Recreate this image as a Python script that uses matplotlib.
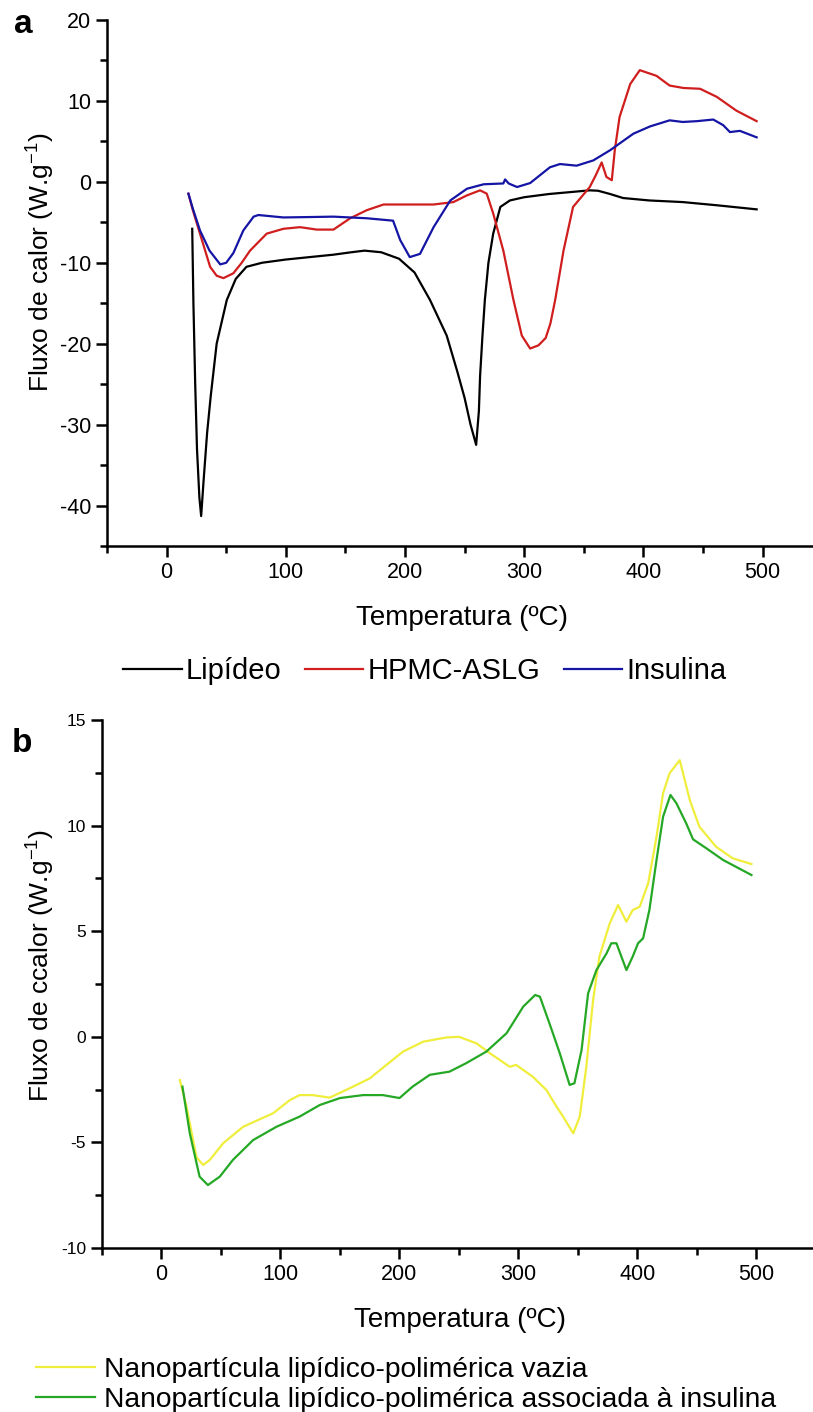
import matplotlib.pyplot as plt
from matplotlib.ticker import MultipleLocator

plt.rcParams['font.family'] = ['Liberation Sans', 'DejaVu Sans']
plt.rcParams['axes.unicode_minus'] = False

# painel a
lip_x = [21.5, 22.5, 24, 25.5, 27.5, 29, 31, 34, 37, 42, 50.5, 58, 67, 80, 100, 120, 140, 155, 166, 180,
         195, 208, 221, 235, 244, 250, 255, 259.7, 262, 263, 265, 267, 270, 274, 280, 288, 300, 321, 340, 355,
         362, 372, 383, 405, 433, 462, 495]
lip_y = [-5.8, -15, -25, -33, -39, -41.3, -37, -31, -26.5, -20, -14.6, -12, -10.5, -10, -9.6, -9.3, -9.0, -8.7, -8.5, -8.7,
         -9.5, -11.2, -14.6, -19, -23.5, -26.7, -30, -32.5, -28.3, -24, -19, -14.6, -10, -6.4, -3.1, -2.3, -1.9, -1.5, -1.25, -1.05,
         -1.1, -1.5, -2.0, -2.3, -2.5, -2.9, -3.4]

hpmc_x = [18.3, 22, 28, 36.5, 42, 47.7, 56, 63, 70, 84, 98, 112, 126, 140, 154, 168, 182, 200, 224, 240.6,
          252, 263, 268.6, 274, 282.5, 291, 298, 305, 312, 318, 322, 326, 333, 341, 355, 360, 365, 369, 373.5, 376,
          380, 389, 397, 411, 422, 433.5, 447.6, 461.6, 478, 495]
hpmc_y = [-1.46, -3.5, -6.4, -10.5, -11.6, -11.9, -11.3, -10, -8.5, -6.4, -5.8, -5.6, -5.9, -5.9, -4.5, -3.5, -2.8, -2.8, -2.8, -2.5,
          -1.67, -1.05, -1.46, -3.9, -8.5, -14.6, -19, -20.6, -20.2, -19.3, -17.5, -14.6, -8.5, -3.1, -0.64, 0.8, 2.4, 0.6, 0.2, 3.9,
          8.0, 12.1, 13.8, 13.1, 11.9, 11.6, 11.5, 10.5, 8.8, 7.5]

ins_x = [18.3, 22, 28, 36, 45, 50, 56, 64.4, 73, 77, 98, 120, 140, 168, 190, 196, 204, 212.6, 224, 238,
         252, 266, 282.5, 284, 287, 294, 305, 321.6, 330, 344, 358, 372, 391.6, 405.6, 422, 433, 445, 458.6, 467, 472.6,
         481, 495]
ins_y = [-1.46, -3.3, -6.0, -8.5, -10.2, -10.0, -8.8, -6.0, -4.3, -4.1, -4.4, -4.35, -4.3, -4.5, -4.8, -7.2, -9.3, -8.9, -5.6, -2.3,
         -0.85, -0.3, -0.2, 0.3, -0.2, -0.64, -0.15, 1.8, 2.2, 2.0, 2.65, 3.9, 5.95, 6.85, 7.6, 7.4, 7.5, 7.7, 7.0, 6.15,
         6.3, 5.5]

# painel b
vaz_x = [15.4, 21, 29.4, 35, 40.6, 51.8, 68.6, 93.8, 107.8, 116, 127, 141.4, 158, 175, 189, 203, 220, 239.5, 250, 264.7,
         276, 292.7, 298, 312, 323.5, 332, 337.5, 346, 351.5, 357, 362.7, 368, 376.7, 383.7, 390.7, 396, 401.9, 409, 416, 421.5,
         427, 435.5, 444, 452, 466, 480, 495.8]
vaz_y = [-2.05, -3.3, -5.7, -6.07, -5.83, -5.04, -4.26, -3.62, -3.0, -2.76, -2.76, -2.88, -2.44, -1.97, -1.33, -0.7, -0.23, -0.03, 0.0, -0.31,
         -0.78, -1.42, -1.33, -1.89, -2.52, -3.31, -3.78, -4.57, -3.78, -1.42, 1.74, 3.8, 5.37, 6.24, 5.45, 6.0, 6.16, 7.27, 9.47, 11.53,
         12.48, 13.1, 11.2, 9.95, 9.0, 8.45, 8.18]

ass_x = [17.6, 23.8, 32, 39, 49, 60, 77, 96.6, 116, 133, 150, 169.4, 186, 200, 211, 225.5, 242, 256, 273, 290,
         304, 314, 318, 326, 334.7, 343, 347, 353, 358.5, 365.5, 374, 378, 382.3, 390.7, 396, 400.5, 404.7, 410, 416, 421.5,
         427.7, 432.7, 441, 446.7, 458, 472, 495.8]
ass_y = [-2.36, -4.57, -6.62, -7.02, -6.62, -5.83, -4.89, -4.26, -3.78, -3.23, -2.9, -2.76, -2.76, -2.9, -2.36, -1.8, -1.65, -1.25, -0.7, 0.17,
         1.43, 1.98, 1.9, 0.64, -0.78, -2.28, -2.2, -0.63, 2.06, 3.16, 3.95, 4.43, 4.43, 3.16, 3.8, 4.43, 4.66, 6.0, 8.37, 10.42,
         11.45, 11.06, 10.1, 9.35, 8.92, 8.37, 7.66]

W, H = 813, 1412
fig = plt.figure(figsize=(W / 100, H / 100), dpi=100)


def style(ax):
    for s in ['top', 'right']:
        ax.spines[s].set_visible(False)
    for s in ['left', 'bottom']:
        ax.spines[s].set_linewidth(1.8)
    ax.tick_params(which='major', direction='out', length=8, width=1.8, labelsize=15.5)
    ax.tick_params(which='minor', direction='out', length=5, width=1.8)
    ax.xaxis.set_major_locator(MultipleLocator(100))
    ax.xaxis.set_minor_locator(MultipleLocator(50))


ax1 = fig.add_axes([107 / W, 1 - 546 / H, 706 / W, 526 / H])
style(ax1)
ax1.plot(lip_x, lip_y, color='black', lw=1.6, label='Lipídeo')
ax1.plot(hpmc_x, hpmc_y, color='#d01e1e', lw=1.6, label='HPMC-ASLG')
ax1.plot(ins_x, ins_y, color='#1515a5', lw=1.6, label='Insulina')
ax1.set_xlim(-50, 542.3)
ax1.set_ylim(-45, 20)
ax1.yaxis.set_major_locator(MultipleLocator(10))
ax1.yaxis.set_minor_locator(MultipleLocator(5))
ax1.set_xticks([0, 100, 200, 300, 400, 500])
fig.text(462 / W, 1 - 618 / H, 'Temperatura (ºC)', ha='center', va='center', fontsize=20)
fig.text(40 / W, 1 - 262 / H, 'Fluxo de calor (W.g$^{\\mathregular{-1}}$)', ha='center', va='center',
         rotation=90, fontsize=19)
fig.text(14 / W, 1 - 33 / H, 'a', fontsize=24, fontweight='bold')
ax1.legend(loc='center', bbox_to_anchor=(425 / W, 1 - 671 / H), bbox_transform=fig.transFigure,
           ncol=3, frameon=False, fontsize=21, handlelength=2.0, handletextpad=0.15, columnspacing=0.8)

ax2 = fig.add_axes([102 / W, 1 - 1248 / H, 711 / W, 528 / H])
style(ax2)
ax2.tick_params(axis='y', which='major', labelsize=12.5)
ax2.plot(vaz_x, vaz_y, color='#f0ee3c', lw=1.6, label='Nanopartícula lipídico-polimérica vazia')
ax2.plot(ass_x, ass_y, color='#25a825', lw=1.6, label='Nanopartícula lipídico-polimérica associada à insulina')
ax2.set_xlim(-50, 547.5)
ax2.set_ylim(-10, 15)
ax2.yaxis.set_major_locator(MultipleLocator(5))
ax2.yaxis.set_minor_locator(MultipleLocator(2.5))
ax2.set_xticks([0, 100, 200, 300, 400, 500])
fig.text(460 / W, 1 - 1320 / H, 'Temperatura (ºC)', ha='center', va='center', fontsize=20)
fig.text(40 / W, 1 - 965 / H, 'Fluxo de ccalor (W.g$^{\\mathregular{-1}}$)', ha='center', va='center',
         rotation=90, fontsize=19)
fig.text(12 / W, 1 - 752 / H, 'b', fontsize=24, fontweight='bold')
ax2.legend(loc='upper left', bbox_to_anchor=(36 / W, 1 - 1357 / H), bbox_transform=fig.transFigure,
           ncol=1, frameon=False, fontsize=20.3, handlelength=2.1, handletextpad=0.3,
           labelspacing=0.15, borderaxespad=0, borderpad=0)

fig.savefig('out.png', dpi=100)
